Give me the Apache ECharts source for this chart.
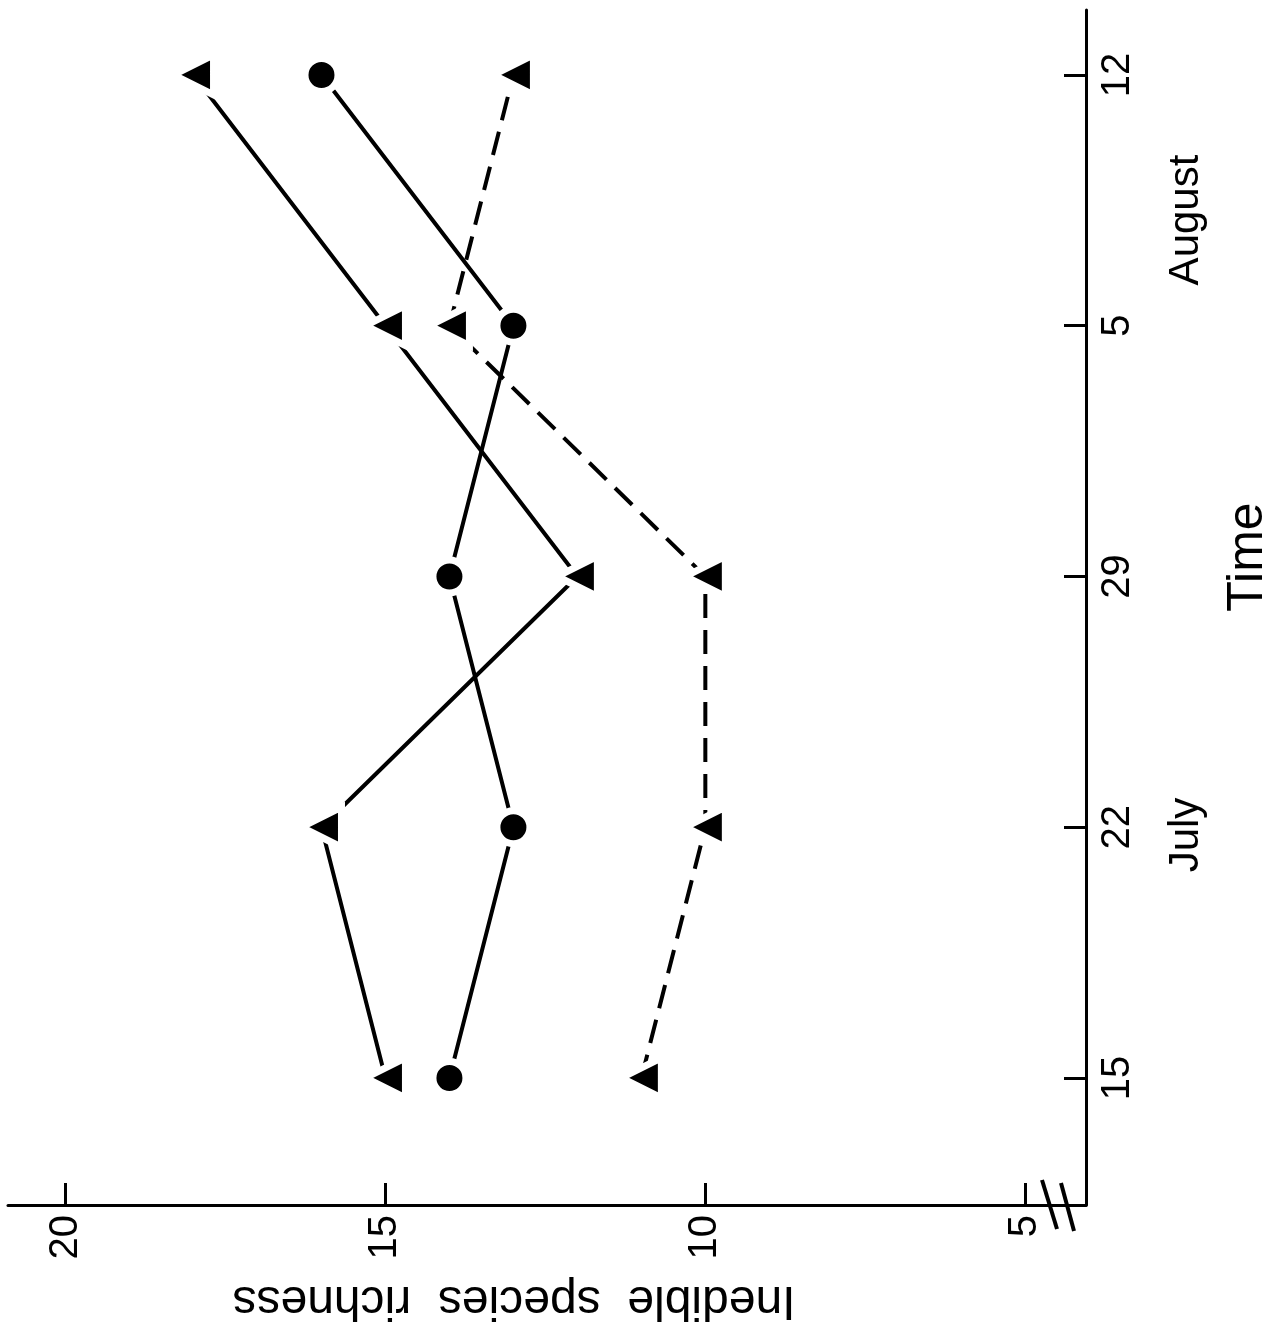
<!DOCTYPE html>
<html>
<head>
<meta charset="utf-8">
<script src="https://cdn.jsdelivr.net/npm/echarts@6/dist/echarts.min.js"></script>
<style>
  html, body { margin: 0; padding: 0; background: #fff; }
  #chart { width: 1284px; height: 1342px; }
</style>
</head>
<body>
<div id="chart"></div>
<script>
// sampling dates (index 0..4 on the time axis)
const dates = ['15', '22', '29', '5', '12']
const richTicks = [5, 10, 15, 20]

// inedible species richness per date
const solidTriangles = [15, 16, 12, 15, 18]
const solidCircles = [14, 13, 14, 13, 16]
const dashedTriangles = [11, 10, 10, 14, 13]

const FONT = 'Liberation Sans'

function pairs(vals) {
    return vals.map((v, i) => [v, i])
}

let chart = echarts.init(document.getElementById('chart'))

let markerStyle = {
    color: '#000',
    borderColor: '#fff',
    borderWidth: 7
}

let option = {
    backgroundColor: '#fff',
    animation: false,
    grid: { left: 8, right: 198, top: 10, bottom: 137 },
    xAxis: {
        type: 'value',
        inverse: true,
        min: 4.05,
        max: 20.9,
        position: 'bottom',
        splitLine: { show: false },
        axisLine: { show: true, onZero: false, lineStyle: { color: '#000', width: 3 } },
        axisTick: { show: true, inside: true, length: 22, customValues: richTicks, lineStyle: { color: '#000', width: 3 } },
        axisLabel: {
            customValues: richTicks,
            rotate: 90,
            margin: 10,
            color: '#000',
            fontFamily: FONT,
            fontSize: 40
        }
    },
    yAxis: {
        type: 'value',
        position: 'right',
        min: -0.5065,
        max: 4.259,
        splitLine: { show: false },
        axisLine: { show: true, onZero: false, lineStyle: { color: '#000', width: 3 } },
        axisTick: { show: true, inside: true, length: 22, customValues: [0, 1, 2, 3, 4], lineStyle: { color: '#000', width: 3 } },
        axisLabel: {
            customValues: [0, 1, 2, 3, 4],
            formatter: v => dates[Math.round(v)],
            rotate: 90,
            margin: 12,
            color: '#000',
            fontFamily: FONT,
            fontSize: 40
        }
    },
    series: [
        {
            type: 'line',
            data: pairs(solidTriangles),
            symbol: 'triangle',
            symbolRotate: 90,
            symbolSize: 40,
            lineStyle: { color: '#000', width: 4 },
            itemStyle: markerStyle,
            z: 3
        },
        {
            type: 'line',
            data: pairs(solidCircles),
            symbol: 'circle',
            symbolSize: 33,
            lineStyle: { color: '#000', width: 4 },
            itemStyle: markerStyle,
            z: 3
        },
        {
            type: 'line',
            data: pairs(dashedTriangles),
            symbol: 'triangle',
            symbolRotate: 90,
            symbolSize: 40,
            lineStyle: { color: '#000', width: 4, type: [24, 12] },
            itemStyle: markerStyle,
            z: 3
        }
    ],
    graphic: [
        // axis break marks
        { type: 'line', shape: { x1: 1042, y1: 1180, x2: 1057, y2: 1229 }, style: { stroke: '#000', lineWidth: 4 } },
        { type: 'line', shape: { x1: 1061, y1: 1183, x2: 1074, y2: 1231 }, style: { stroke: '#000', lineWidth: 4 } },
        {
            type: 'text', x: 514, y: 1300, rotation: Math.PI,
            style: { text: 'Inedible  species  richness', font: '48px ' + FONT, fill: '#000', align: 'center', verticalAlign: 'middle' }
        },
        {
            type: 'text', x: 1248, y: 557, rotation: Math.PI / 2,
            style: { text: 'Time', font: '50px ' + FONT, fill: '#000', align: 'center', verticalAlign: 'middle' }
        },
        {
            type: 'text', x: 1186, y: 835, rotation: Math.PI / 2,
            style: { text: 'July', font: '42px ' + FONT, fill: '#000', align: 'center', verticalAlign: 'middle' }
        },
        {
            type: 'text', x: 1186, y: 220, rotation: Math.PI / 2,
            style: { text: 'August', font: '42px ' + FONT, fill: '#000', align: 'center', verticalAlign: 'middle' }
        }
    ]
}

chart.setOption(option)
</script>
</body>
</html>
